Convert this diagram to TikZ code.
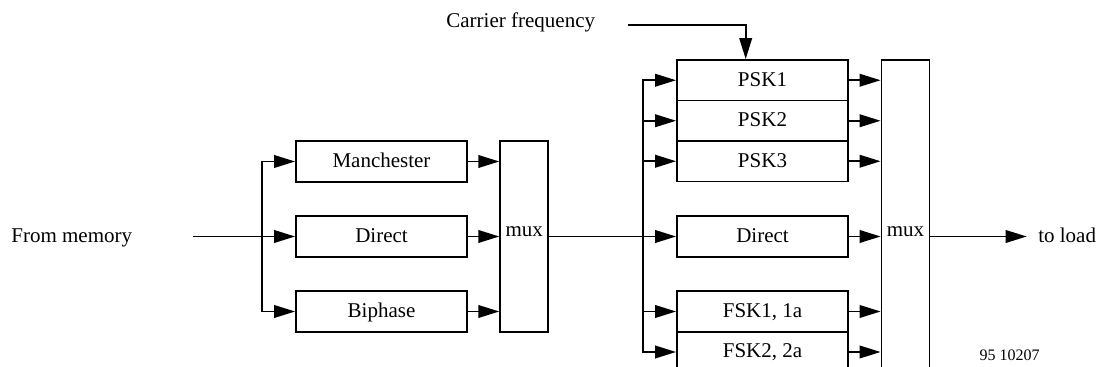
\documentclass[tikz,border=0pt]{standalone}
\usepackage{fontspec}
\setmainfont{Liberation Serif}
\usetikzlibrary{arrows.meta}
\tikzset{
  box/.style={draw, line width=0.9pt, minimum width=85.5pt, minimum height=20.25pt,
    inner sep=0pt, text height=8pt, text depth=2pt, font=\fontsize{10.5}{12}\selectfont},
  muxbox/.style={draw, line width=0.9pt, minimum width=24pt, minimum height=95.5pt,
    inner sep=0pt, text height=0pt, text depth=0pt, font=\fontsize{10.5}{12}\selectfont},
  lbl/.style={inner sep=0pt, text height=8pt, text depth=2pt, font=\fontsize{10.5}{12}\selectfont},
  sig/.style={line width=0.9pt, -{Triangle[length=10.5pt,width=6.3pt]}}
}
\begin{document}
\begin{tikzpicture}[x=0.5pt,y=-0.5pt]
      \useasboundingbox (0,0) rectangle (1099,367);
      \clip (0,0) rectangle (1099,367);
      \draw
        (11,236.5) node[lbl,anchor=west] (mem){From memory}
        (446,22) node[lbl,anchor=west] (carrier){Carrier frequency}
        (381.5,161.5) node[box] (man){Manchester}
        (381.5,236.5) node[box] (dir1){Direct}
        (381.5,311.5) node[box] (bip){Biphase}
        (524.2,236.5) node[muxbox] (mux1){mux}
        (762.5,80.25) node[box] (psk1){PSK1}
        (762.5,120.75) node[box] (psk2){PSK2}
        (762.5,161.25) node[box] (psk3){PSK3}
        (762.5,236.5) node[box] (dir2){Direct}
        (762.5,311.5) node[box] (fsk1){FSK1, 1a}
        (762.5,352) node[box] (fsk2){FSK2, 2a}
        (905.5,236.5) node[muxbox,minimum height=176.5pt] (mux2){mux}
        (1026.7,236.5) node[lbl,anchor=west,inner xsep=5.6pt] (load){to load}
        (1009.5,355) node[inner sep=0pt,font=\fontsize{8}{9}\selectfont] (num){95 10207};
      \coordinate (in) at (193,236.5);
      \coordinate (s1) at (261.7,236.5);
      \coordinate (s2) at (643.3,236.5);
      \coordinate (cf) at (628,25);
      \begin{scope}[sig]
        \draw (in) to (dir1.west);
        \draw (s1) |- (man.west);
        \draw (s1) |- (bip.west);
        \draw (man.east) to (man.east -| mux1.west);
        \draw (dir1.east) to (dir1.east -| mux1.west);
        \draw (bip.east) to (bip.east -| mux1.west);
        \draw (mux1.east |- dir2) to (dir2.west);
        \draw (s2) |- (psk1.west);
        \draw (s2) |- (psk2.west);
        \draw (s2) |- (psk3.west);
        \draw (s2) |- (fsk1.west);
        \draw (s2) |- (fsk2.west);
        \draw (cf) -| ([xshift=-8.4pt]psk1.north);
        \draw (psk1.east) to (psk1.east -| mux2.west);
        \draw (psk2.east) to (psk2.east -| mux2.west);
        \draw (psk3.east) to (psk3.east -| mux2.west);
        \draw (dir2.east) to (dir2.east -| mux2.west);
        \draw (fsk1.east) to (fsk1.east -| mux2.west);
        \draw (fsk2.east) to (fsk2.east -| mux2.west);
        \draw (mux2.east |- dir2) to (load.west);
      \end{scope}
    \end{tikzpicture}
\end{document}
